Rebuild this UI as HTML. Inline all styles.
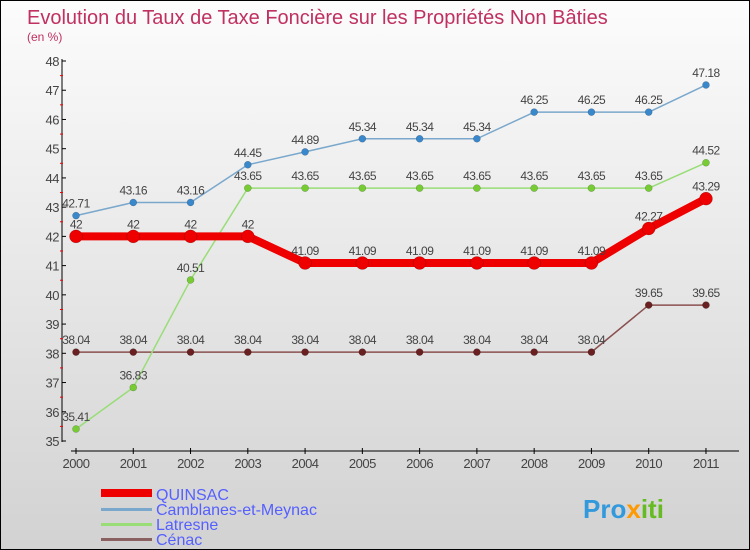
<!DOCTYPE html>
<html><head><meta charset="utf-8"><style>
body{margin:0}
#c{width:750px;height:550px;position:relative;box-sizing:border-box;border:1px solid #000;background:linear-gradient(#fcfcfc,#d2d2d2);font-family:"Liberation Sans",sans-serif;overflow:hidden}
</style></head><body>
<div id="c">
<svg id="s" width="750" height="550" style="position:absolute;left:0;top:0">
<text x="26" y="23" font-size="20" fill="#c03060">Evolution du Taux de Taxe Foncière sur les Propriétés Non Bâties</text>
<text x="26" y="40" font-size="12" fill="#c03060">(en %)</text>
<g id="axes"></g><g id="series"></g>
<g>
<rect x="100" y="488" width="51" height="8" fill="#e00"/>
<text x="155" y="499" font-size="16" fill="#5560ff">QUINSAC</text>
<rect x="100" y="507" width="51" height="3" fill="#7aa8cc"/>
<text x="155" y="514" font-size="16" fill="#5560ff">Camblanes-et-Meynac</text>
<rect x="100" y="522" width="51" height="3" fill="#99dd77"/>
<text x="155" y="529" font-size="16" fill="#5560ff">Latresne</text>
<rect x="100" y="537" width="51" height="3" fill="#8a6060"/>
<text x="155" y="544" font-size="16" fill="#5560ff">Cénac</text>
</g>
<text x="582" y="517" font-size="26" font-weight="bold" fill="#3399dd">Pro<tspan fill="#ff9900">x</tspan><tspan fill="#66bb22">iti</tspan></text>
</svg>
</div>
<script>
const years=[2000,2001,2002,2003,2004,2005,2006,2007,2008,2009,2010,2011];
const yTicks=[35,36,37,38,39,40,41,42,43,44,45,46,47,48];
const quinsac=[42,42,42,42,41.09,41.09,41.09,41.09,41.09,41.09,42.27,43.29];
const camblanes=[42.71,43.16,43.16,44.45,44.89,45.34,45.34,45.34,46.25,46.25,46.25,47.18];
const latresne=[35.41,36.83,40.51,43.65,43.65,43.65,43.65,43.65,43.65,43.65,43.65,44.52];
const cenac=[38.04,38.04,38.04,38.04,38.04,38.04,38.04,38.04,38.04,38.04,39.65,39.65];
const NS="http://www.w3.org/2000/svg";
const X=i=>75+i*57.27, Y=v=>440-(v-35)*(380/13);
function mk(t,a,p){const e=document.createElementNS(NS,t);for(const k in a)e.setAttribute(k,a[k]);p.appendChild(e);return e;}
const ax=document.getElementById('axes');
let l=mk('line',{x1:61,y1:58,x2:61,y2:441,stroke:'#000','stroke-width':1},ax);

l=mk('line',{x1:70,y1:450,x2:738,y2:450,stroke:'#000','stroke-width':1},ax);

yTicks.forEach(v=>{
 mk('line',{x1:61,y1:Y(v),x2:65,y2:Y(v),stroke:'#000'},ax);
 if(v<48)mk('line',{x1:59,y1:Y(v+0.5),x2:62,y2:Y(v+0.5),stroke:'#e00'},ax);
 const t=mk('text',{x:58,y:Y(v)+5,'text-anchor':'end','font-size':13,fill:'#444','letter-spacing':'-0.5'},ax);
 t.textContent=v;
 
});
years.forEach((y,i)=>{
 mk('line',{x1:X(i),y1:447,x2:X(i),y2:453,stroke:'#000'},ax);
 const t=mk('text',{x:X(i),y:467,'text-anchor':'middle','font-size':13,fill:'#444','letter-spacing':'-0.5'},ax);
 t.textContent=y;
 
});
const sg=document.getElementById('series');
function series(name,vals,col,dot,w,r){
 const g=mk('g',{},sg);
 
 const p=mk('polyline',{points:vals.map((v,i)=>X(i)+','+Y(v)).join(' '),fill:'none',stroke:col,'stroke-width':w,'stroke-linejoin':'round'},g);
 
 vals.forEach((v,i)=>{
  const c=mk('circle',{cx:X(i),cy:Y(v),r:r,fill:dot,stroke:'rgba(0,0,0,0.3)','stroke-width':0.5},g);
  
  const t=mk('text',{x:X(i),y:Y(v)-8,'text-anchor':'middle','font-size':12,fill:'#444','letter-spacing':'-0.5'},g);
  t.textContent=v;
  
 });
}
series('cenac',cenac,'#8a5050','#6a2020',1.5,3.5);
series('latresne',latresne,'#99dd77','#77cc33',1.5,3.5);
series('camblanes',camblanes,'#7aa8cc','#3a88cc',1.5,3.5);
series('quinsac',quinsac,'#ee0000','#ee0000',8,6.5);
</script>
</body></html>
